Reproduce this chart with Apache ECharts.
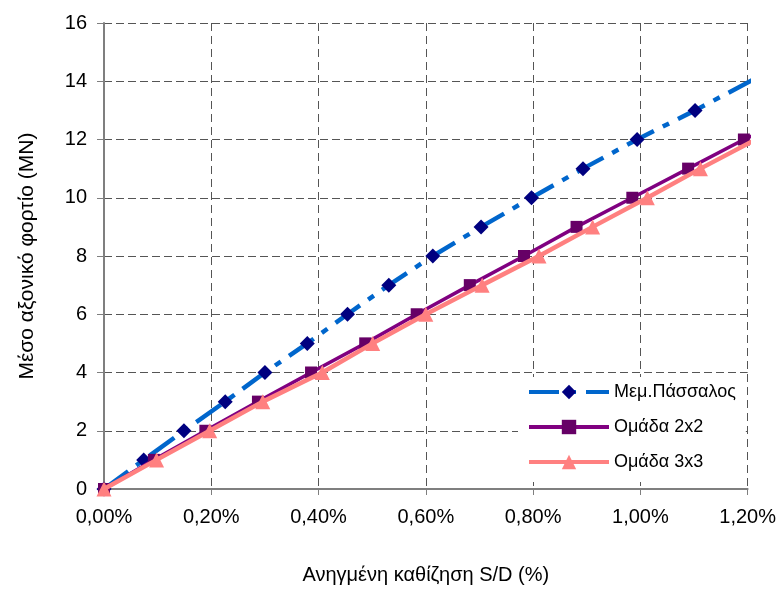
<!DOCTYPE html>
<html>
<head>
<meta charset="utf-8">
<script src="https://cdn.jsdelivr.net/npm/echarts@6/dist/echarts.min.js"></script>
<style>
html,body{margin:0;padding:0;background:#fff;}
#chart{width:779px;height:590px;}
</style>
</head>
<body>
<div id="chart"></div>
<script>
// ---- Data (S/D in %, load in MN) ----
var seriesNames = ['Μεμ.Πάσσαλος', 'Ομάδα 2x2', 'Ομάδα 3x3'];
// last point of each list is where the visible line ends at the right border
var pileX  = [0, 0.074, 0.149, 0.226, 0.300, 0.379, 0.454, 0.531, 0.613, 0.703, 0.797, 0.893, 0.994, 1.102, 1.215];
var pileY  = [0, 1, 2, 3, 4, 5, 6, 7, 8, 9, 10, 11, 12, 13, 14.1];
var g2X    = [0, 0.093, 0.189, 0.287, 0.386, 0.487, 0.583, 0.682, 0.783, 0.881, 0.985, 1.089, 1.193, 1.215];
var g2Y    = [0, 1, 2, 3, 4, 5, 6, 7, 8, 9, 10, 11, 12, 12.18];
var g3X    = [0, 0.098, 0.197, 0.296, 0.407, 0.501, 0.600, 0.705, 0.811, 0.911, 1.013, 1.112, 1.215];
var g3Y    = [0, 1, 2, 3, 4, 5, 6, 7, 8, 9, 10, 11, 12];
var xTickLabels = ['0,00%', '0,20%', '0,40%', '0,60%', '0,80%', '1,00%', '1,20%'];
var yTickLabels = ['0', '2', '4', '6', '8', '10', '12', '14', '16'];
var xTitle = 'Ανηγμένη καθίζηση S/D (%)';
var yTitle = 'Μέσο αξονικό φορτίο (MN)';

function pairs(xs, ys) {
  return xs.map(function (x, i) {
    var item = { value: [x, ys[i]] };
    if (i === xs.length - 1) item.symbol = 'none';
    return item;
  });
}

var FONT = '"Liberation Sans", Arial, sans-serif';
var chart = echarts.init(document.getElementById('chart'), null, { renderer: 'canvas' });
chart.setOption({
  animation: false,
  backgroundColor: '#ffffff',
  grid: { left: 104, right: 30, top: 23, bottom: 99, containLabel: false },
  xAxis: {
    type: 'value', min: 0, max: 1.2, interval: 0.2,
    name: xTitle, nameLocation: 'middle', nameGap: 76,
    nameTextStyle: { fontFamily: FONT, fontSize: 20, color: '#000' },
    axisLine: { show: true, onZero: false, lineStyle: { color: '#7f7f7f', width: 2 } },
    axisTick: { show: true, length: 6, inside: false, lineStyle: { color: '#7f7f7f' } },
    axisLabel: {
      fontFamily: FONT, fontSize: 20, color: '#000', margin: 18,
      formatter: function (v) { return xTickLabels[Math.round(v / 0.2)]; }
    },
    splitLine: { show: true, lineStyle: { color: '#555', type: [8, 5], width: 1 } }
  },
  yAxis: {
    type: 'value', min: 0, max: 16, interval: 2,
    name: yTitle, nameLocation: 'middle', nameGap: 66, nameRotate: 90,
    nameTextStyle: { fontFamily: FONT, fontSize: 21, color: '#000' },
    axisLine: { show: true, onZero: false, lineStyle: { color: '#7f7f7f', width: 2 } },
    axisTick: { show: true, length: 7, lineStyle: { color: '#7f7f7f' } },
    axisLabel: {
      fontFamily: FONT, fontSize: 20, color: '#000', margin: 17,
      formatter: function (v) { return yTickLabels[Math.round(v / 2)]; }
    },
    splitLine: { show: true, lineStyle: { color: '#555', type: [8, 4], width: 1 } }
  },
  legend: {
    orient: 'vertical', left: 518, top: 377,
    backgroundColor: '#ffffff',
    padding: [6, 10, 11, 9],
    itemWidth: 80, itemHeight: 18, itemGap: 17,
    lineStyle: { width: 4 },
    textStyle: { fontFamily: FONT, fontSize: 18, color: '#000' },
    data: seriesNames
  },
  series: [
    {
      name: seriesNames[0], type: 'line', clip: false, z: 2,
      data: pairs(pileX, pileY),
      symbol: 'diamond', symbolSize: 15,
      lineStyle: { color: '#0066CC', width: 4.5, type: [30, 10, 7, 10] },
      itemStyle: { color: '#000080' }
    },
    {
      name: seriesNames[1], type: 'line', clip: false, z: 3,
      data: pairs(g2X, g2Y),
      symbol: 'rect', symbolSize: 12,
      lineStyle: { color: '#800080', width: 3.5 },
      itemStyle: { color: '#660066' }
    },
    {
      name: seriesNames[2], type: 'line', clip: false, z: 4,
      data: pairs(g3X, g3Y),
      symbol: 'triangle', symbolSize: 15,
      lineStyle: { color: '#FF8080', width: 4.5 },
      itemStyle: { color: '#FF8080' }
    }
  ]
});
</script>
</body>
</html>
